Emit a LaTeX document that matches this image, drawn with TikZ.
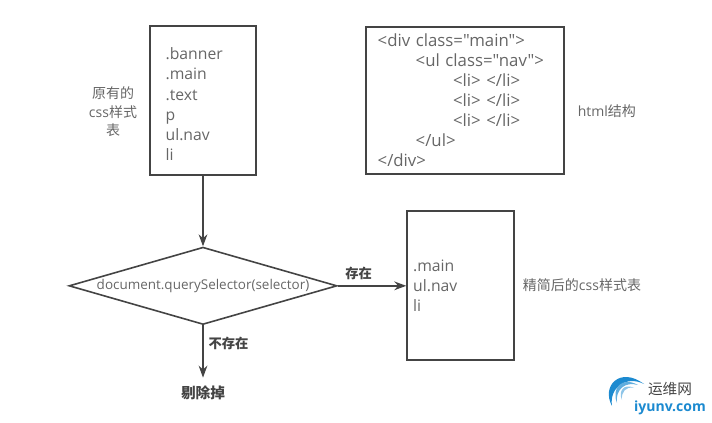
\documentclass[tikz,border=0pt]{standalone}
\usepackage{fontspec}
\setmainfont{Open Sans}[Ligatures=TeXOff]
\newfontfamily\cjk{Noto Sans CJK SC}
\newcommand{\zh}[1]{{\cjk #1}}
\usetikzlibrary{arrows.meta,shapes.geometric,positioning}
\definecolor{boxline}{HTML}{444444}
\definecolor{txtgray}{HTML}{666666}
\definecolor{logoblue}{HTML}{1C8AD0}
\tikzset{
    x=0.75pt,
    y=-0.75pt,
    code-box/.style={
        rectangle,
        draw=boxline,
        line width=1.3pt,
        align=left,
        text=txtgray,
        font=\fontsize{11.8}{15.2}\selectfont,
        inner sep=0pt
    },
    test-point/.style={
        diamond,
        draw=boxline,
        line width=1.2pt,
        aspect=3.45,
        inner sep=0pt,
        minimum width=201pt,
        minimum height=58pt,
        text=txtgray,
        font=\fontsize{10.1}{12}\selectfont
    },
    note/.style={
        text=txtgray,
        align=center,
        inner sep=0pt,
        font=\fontsize{10.5}{13.8}\selectfont
    },
    tag/.style={
        text=boxline,
        inner sep=0pt,
        font=\fontsize{10}{12}\selectfont
    },
    flow/.style={
        draw=boxline,
        line width=1.35pt,
        -{Stealth[length=9pt,width=6.5pt]}
    },
}
\begin{document}
\begin{tikzpicture}
        \useasboundingbox (0,0) rectangle (712,423);
        \node [code-box,minimum width=80pt,minimum height=111.5pt,text width=56pt] (B1) at (203,100.5) {\rule{0pt}{14.5pt}.banner\\.main\\.text\\p\\ul.nav\\li};
        \node [code-box,minimum width=148.5pt,minimum height=110pt,text width=131pt,font=\fontsize{12.6}{15}\selectfont] (B2) at (465,100.5) {<div class="main">\\\hspace*{28.5pt}<ul class="nav">\\\hspace*{56.5pt}<li> </li>\\\hspace*{56.5pt}<li> </li>\\\hspace*{56.5pt}<li> </li>\\\hspace*{28.5pt}</ul>\\</div>};
        \node [test-point,below=53pt of B1] (D1) {document.querySelector(selector)};
        \node [code-box,minimum width=80pt,minimum height=111.5pt,text width=71pt] (B3) at (460.5,285.5) {.main\\ul.nav\\li};
        \node [tag,font=\fontsize{11}{13}\selectfont\bfseries] (R1) at (203,393) {\zh{剔除掉}};
        \node [note] (N1) at (113,112) {\zh{原有的}\\css\zh{样式}\\\zh{表}};
        \node [note,right=9.5pt of B2,yshift=-8pt] (N2) {html\zh{结构}};
        \node [note,right=6pt of B3] (N3) {\zh{精简后的}css\zh{样式表}};
        \draw [flow] (B1) -- (D1);
        \draw [flow] (D1) -- node [tag,above=3.5pt,xshift=-10pt,font=\fontsize{10}{12}\selectfont\bfseries] (L1) {\zh{存在}} (B3.west |- D1);
        \draw [flow,shorten >=6pt] (D1) -- node [tag,pos=0.3,right=3.5pt,font=\fontsize{10}{12}\selectfont\bfseries] (L2) {\zh{不存在}} (R1);
        % logo
        \fill [logoblue] (612,406) .. controls (601,386) and (620,366) .. (644,384) .. controls (626,375) and (609,388) .. (612,406) -- cycle;
        \fill [logoblue!70] (617,403) .. controls (611,388) and (622,376) .. (638,385) .. controls (625,381) and (615,390) .. (617,403) -- cycle;
        \fill [logoblue!50] (622,400) .. controls (618,391) and (624,383) .. (634,388) .. controls (626,386) and (621,392) .. (622,400) -- cycle;
        \node [tag,text=boxline,font=\fontsize{11}{13}\selectfont] (W1) at (670,389) {\zh{运维网}};
        \node [tag,text=logoblue,font=\fontsize{10.5}{13}\selectfont\bfseries] (W2) at (670,408) {iyunv.com};
    \end{tikzpicture}
\end{document}
